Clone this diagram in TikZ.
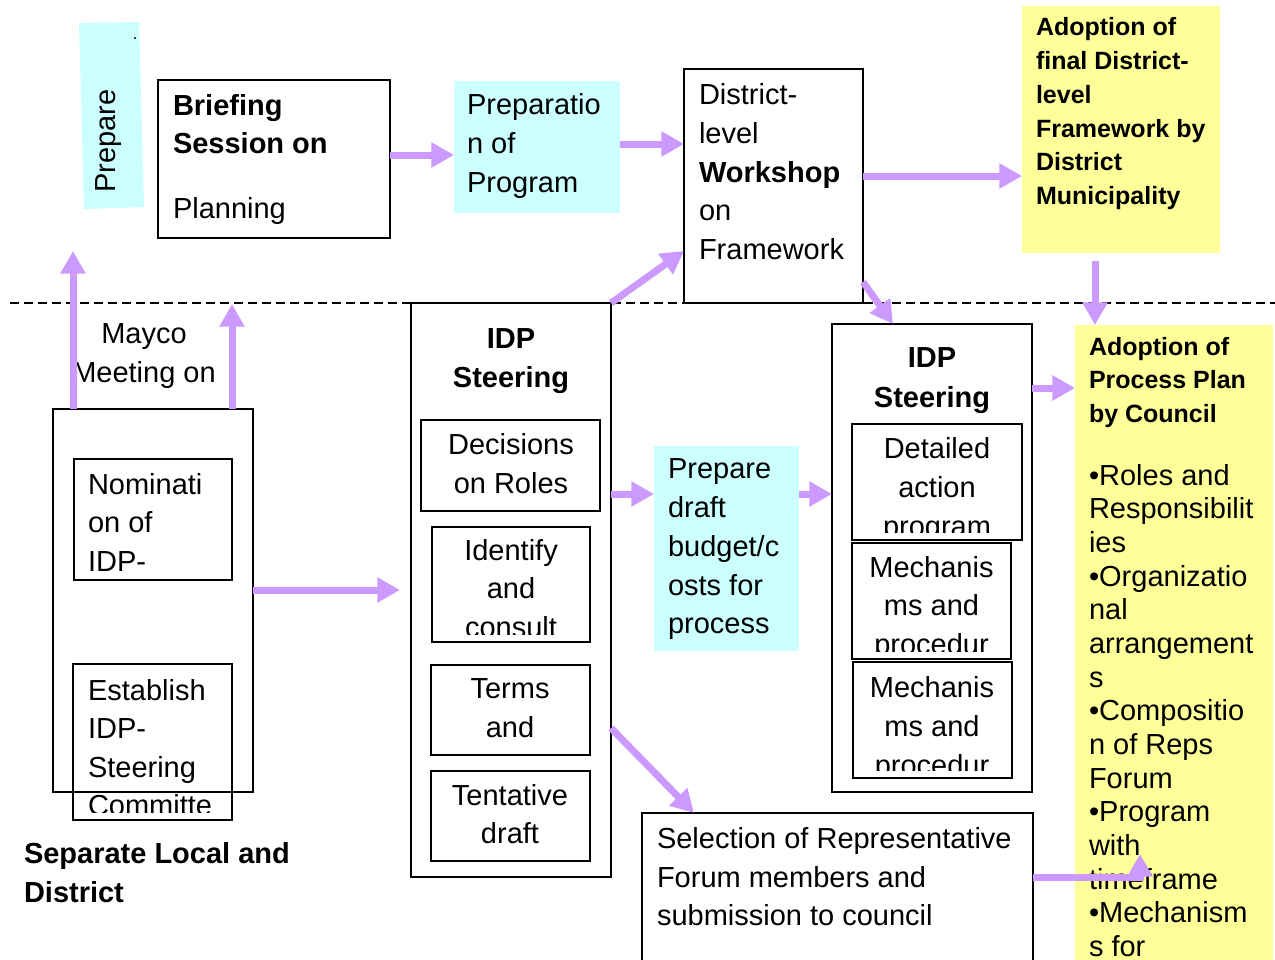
\documentclass[tikz,border=0pt]{standalone}
\usepackage{fontspec}
\setmainfont{Liberation Sans}
\usetikzlibrary{arrows.meta,fit}
\definecolor{cy}{HTML}{CCFFFF}
\definecolor{ye}{HTML}{FFFF99}
\definecolor{pu}{HTML}{CC99FF}
\newcommand\fm{\fontsize{21.75}{26}\selectfont}
\newcommand\fsb{\fontsize{18.75}{22}\selectfont\bfseries}
\newcounter{tn}
\newcommand\txl[4][base west]{\stepcounter{tn}\node[anchor=#1,inner sep=0pt,outer sep=0pt] (t\arabic{tn}) at (#2,#3) {#4};}
\begin{document}
\begin{tikzpicture}[x=0.75pt,y=-0.75pt,
  every node/.style={font=\fm},
  box/.style={draw,line width=1.5pt,inner sep=0pt,outer sep=0pt},
  fillbox/.style={draw=none,inner sep=0pt,outer sep=0pt},
  arr/.style={draw=pu,line width=5.25pt,-{Triangle[length=17pt,width=18pt]}},
  dline/.style={dash pattern=on 6.75pt off 3.75pt,line width=1.1pt}]
\useasboundingbox (0,0) rectangle (1275,960);
\clip (0,0) rectangle (1275,960);
% coloured fills
\fill[cy] (79,23) -- (139,22) -- (144,207) -- (84,209) -- cycle;
\fill (135,38) circle (0.9pt);
\node[fillbox,fill=cy,fit={(454,81)(620,213)}] (prep) {};
\node[fillbox,fill=cy,fit={(654,446)(799,651)}] (prepd) {};
\node[fillbox,fill=ye,fit={(1022,6)(1220,253)}] (adopt1) {};
\node[fillbox,fill=ye,fit={(1075,325)(1273,980)}] (adopt2) {};
% dashed separator
\coordinate (dl1) at (10,303); \coordinate (dl2) at (1275,303);
\draw[dline] (dl1) -- (dl2);
% boxes
\node[box,fit={(158,80)(390,238)}] (brief) {};
\node[box,fit={(684,69)(863,303)}] (dist) {};
\node[box,fit={(53,409)(253,792)}] (lbox) {};
\node[box,fit={(74,459)(232,580)}] (nom) {};
\node[box,fit={(73,664)(232,820)}] (est) {};
\node[box,fit={(411,303)(611,877)}] (steer1) {};
\node[box,fit={(421,420)(600,511)}] (dec) {};
\node[box,fit={(432,527)(590,642)}] (ident) {};
\node[box,fit={(431,665)(590,755)}] (terms) {};
\node[box,fit={(431,771)(590,861)}] (tent) {};
\node[box,fit={(832,324)(1032,792)}] (steer2) {};
\node[box,fit={(852,424)(1022,540)}] (det) {};
\node[box,fit={(852,543)(1011,659)}] (mech1) {};
\node[box,fit={(853,662)(1012,778)}] (mech2) {};
\node[box,fit={(642,813)(1033,990)}] (sel) {};
% texts
\node[rotate=90,anchor=base west,inner sep=0pt] (tprep) at (115,193) {Prepare};
\txl{173}{115}{\bfseries Briefing}
\txl{173}{153}{\bfseries Session on}
\txl{173}{218}{Planning}
\txl{467}{114}{Preparatio}
\txl{467}{153}{n of}
\txl{467}{192}{Program}
\txl{699}{104}{District-}
\txl{699}{143}{level}
\txl{699}{182}{\bfseries Workshop}
\txl{699}{220}{on}
\txl{699}{259}{Framework}
\txl{1036}{36}{\fsb Adoption of}
\txl{1036}{69.5}{\fsb final District-}
\txl{1036}{103}{\fsb level}
\txl{1036}{137}{\fsb Framework by}
\txl{1036}{170}{\fsb District}
\txl{1036}{204}{\fsb Municipality}
\txl[base]{144}{343}{Mayco}
\txl[base]{144}{382}{Meeting on}
\txl{88}{494}{Nominati}
\txl{88}{532}{on of}
\txl{88}{571}{IDP-}
\begin{scope}
\clip (73,664) rectangle (232,812);
\txl{88}{700}{Establish}
\txl{88}{738}{IDP-}
\txl{88}{777}{Steering}
\txl{88}{815}{Committe}
\end{scope}
\txl{24}{863}{\bfseries Separate Local and}
\txl{24}{902}{\bfseries District}
\txl[base]{511}{348}{\bfseries IDP}
\txl[base]{511}{387}{\bfseries Steering}
\txl[base]{511}{454}{Decisions}
\txl[base]{511}{493}{on Roles}
\begin{scope}
\clip (432,527) rectangle (590,634);
\txl[base]{511}{560}{Identify}
\txl[base]{511}{598}{and}
\txl[base]{511}{637}{consult}
\end{scope}
\txl[base]{510}{698}{Terms}
\txl[base]{510}{737}{and}
\txl[base]{510}{805}{Tentative}
\txl[base]{510}{843}{draft}
\txl{668}{478}{Prepare}
\txl{668}{517}{draft}
\txl{668}{556}{budget/c}
\txl{668}{595}{osts for}
\txl{668}{633}{process}
\txl[base]{932}{367}{\bfseries IDP}
\txl[base]{932}{407}{\bfseries Steering}
\begin{scope}
\clip (852,424) rectangle (1022,532);
\txl[base]{937}{458}{Detailed}
\txl[base]{937}{497}{action}
\txl[base]{937}{536}{program}
\end{scope}
\begin{scope}
\clip (852,543) rectangle (1011,651);
\txl[base]{931.5}{577}{Mechanis}
\txl[base]{931.5}{615}{ms and}
\txl[base]{931.5}{654}{procedur}
\end{scope}
\begin{scope}
\clip (853,662) rectangle (1012,770);
\txl[base]{932}{697}{Mechanis}
\txl[base]{932}{736}{ms and}
\txl[base]{932}{775}{procedur}
\end{scope}
\txl{1089}{355}{\fsb Adoption of}
\txl{1089}{388}{\fsb Process Plan}
\txl{1089}{422}{\fsb by Council}
\txl{1089}{485}{•Roles and}
\txl{1089}{518}{Responsibilit}
\txl{1089}{552}{ies}
\txl{1089}{586}{•Organizatio}
\txl{1089}{619}{nal}
\txl{1089}{653}{arrangement}
\txl{1089}{687}{s}
\txl{1089}{720}{•Compositio}
\txl{1089}{754}{n of Reps}
\txl{1089}{788}{Forum}
\txl{1089}{821}{•Program}
\txl{1089}{855}{with}
\txl{1089}{889}{timeframe}
\txl{1089}{922}{•Mechanism}
\txl{1089}{956}{s for}
\txl{657}{848}{Selection of Representative}
\txl{657}{887}{Forum members and}
\txl{657}{925}{submission to council}
% connectors
\coordinate (mu1) at (73,251);
\coordinate (mu2) at (232,304);
\coordinate (a6s) at (1095,261);
\coordinate (selend) at (1140,854);
\draw[arr] (brief.east |- 0,155) -- (prep.west |- 0,155);
\draw[arr] (prep.east |- 0,144) -- (dist.west |- 0,144);
\draw[arr] (steer1.north east) -- (dist.west |- 0,251);
\draw[arr] (dist.east |- 0,176) -- (adopt1.west |- 0,176);
\draw[arr] (dist.east |- 0,282) -- (893,0 |- steer2.north);
\draw[arr] (a6s) -- (a6s |- adopt2.north);
\draw[arr] (steer2.east |- 0,388) -- (adopt2.west |- 0,388);
\draw[arr] (73,0 |- lbox.north) -- (mu1);
\draw[arr] (232,0 |- lbox.north) -- (mu2);
\draw[arr,shorten >=8.25pt] (lbox.east |- 0,590) -- (steer1.west |- 0,590);
\draw[arr] (steer1.east |- 0,494) -- (prepd.west |- 0,494);
\draw[arr] (prepd.east |- 0,494) -- (steer2.west |- 0,494);
\draw[arr] (steer1.east |- 0,728) -- (694,0 |- sel.north);
\draw[arr] (sel.east |- 0,877) -| (selend);
\end{tikzpicture}
\end{document}
